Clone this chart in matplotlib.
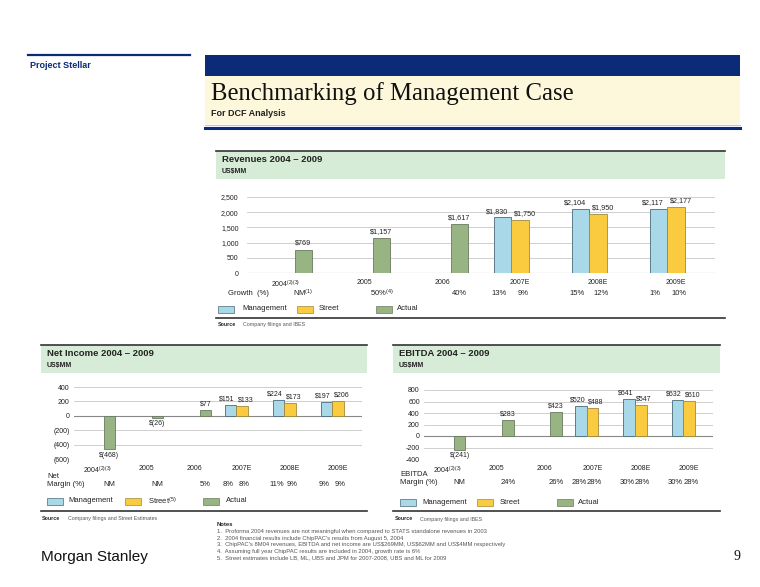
import matplotlib
matplotlib.use("Agg")
import numpy as np
from matplotlib import pyplot as plt
from matplotlib import transforms
from matplotlib.patches import Rectangle
from matplotlib.ticker import FuncFormatter

# ---- data ----
years = ["2004$^{(2)(3)}$", "2005", "2006", "2007E", "2008E", "2009E"]

rev_actual = [769, 1157, 1617]
rev_mgmt = [1830, 2104, 2117]
rev_street = [1750, 1950, 2177]
rev_growth_actual = ["NM$^{(1)}$", "50%$^{(4)}$", "40%"]
rev_growth_mgmt = ["13%", "15%", "1%"]
rev_growth_street = ["9%", "12%", "10%"]

ni_actual = [-468, -26, 77]
ni_mgmt = [151, 224, 197]
ni_street = [133, 173, 206]
ni_margin_actual = ["NM", "NM", "5%"]
ni_margin_mgmt = ["8%", "11%", "9%"]
ni_margin_street = ["8%", "9%", "9%"]

eb_actual = [-241, 283, 423]
eb_mgmt = [520, 641, 632]
eb_street = [488, 547, 610]
eb_margin_actual = ["NM", "24%", "26%"]
eb_margin_mgmt = ["28%", "30%", "30%"]
eb_margin_street = ["28%", "28%", "28%"]

notes = [
    "1.  Proforma 2004 revenues are not meaningful when compared to STATS standalone revenues in 2003",
    "2.  2004 financial results include ChipPAC's results from August 5, 2004",
    "3.  ChipPAC's 8M04 revenues, EBITDA and net income are US$269MM, US$62MM and US$4MM respectively",
    "4.  Assuming full year ChipPAC results are included in 2004, growth rate is 6%",
    "5.  Street estimates include LB, ML, UBS and JPM for 2007-2008, UBS and ML for 2009",
]

# ---- style ----
NAVY = "#0b2a78"
CREAM = "#fdf8dc"
HEAD_GREEN = "#d7ecd7"
C_MGMT = "#a9d9e8"
C_STREET = "#fbcb3f"
C_ACTUAL = "#98b482"
E_MGMT = "#4a6a78"
E_STREET = "#a08a40"
E_ACTUAL = "#6a7a60"
GRID = "#c8c8c8"
TXT = "#222222"
FOOT = "#555555"

plt.rcParams["font.family"] = ["Liberation Sans", "DejaVu Sans"]
plt.rcParams["mathtext.fontset"] = "custom"
plt.rcParams["mathtext.rm"] = "Liberation Sans"
plt.rcParams["mathtext.it"] = "Liberation Sans"
plt.rcParams["mathtext.default"] = "rm"

W, H = 760, 587
fig = plt.figure(figsize=(W / 100, H / 100), dpi=100)


def rect(x0, y0, x1, y1, color, z=0, **kw):
    fig.patches.append(Rectangle((x0 / W, 1 - y1 / H), (x1 - x0) / W, (y1 - y0) / H,
                                 transform=fig.transFigure, facecolor=color, zorder=z, **kw))


def hline(x0, x1, y, lw, color):
    fig.add_artist(plt.Line2D([x0 / W, x1 / W], [1 - y / H, 1 - y / H], lw=lw, color=color,
                              transform=fig.transFigure))


def txt(x, y, s, **kw):
    kw.setdefault("va", "center")
    kw.setdefault("color", TXT)
    fig.text(x / W, 1 - y / H, s, **kw)


def add_axes(x0, x1, ytop, ybot):
    return fig.add_axes([x0 / W, 1 - ybot / H, (x1 - x0) / W, (ybot - ytop) / H])


# ---- slide frame ----
hline(28, 190, 55, 1.6, NAVY)
txt(30, 66, "Project Stellar", fontsize=6.5, fontweight="bold", color=NAVY)
rect(205, 55, 740, 76, NAVY)
rect(205, 76, 740, 124, CREAM)
hline(205, 740, 124.5, 0.8, "#b8c4d8")
hline(205, 740, 128, 2.2, NAVY)
txt(211, 100, "Benchmarking of Management Case", fontsize=17.8, va="baseline",
    family=["Liberation Serif", "DejaVu Serif"], color="#111111")
txt(211, 114, "For DCF Analysis", fontsize=6.5, fontweight="bold")


def panel(hx0, hx1, hy, title, tsize):
    rect(hx0, hy, hx1, hy + 28, HEAD_GREEN)
    hline(hx0, hx1, hy, 1.2, "#333333")
    txt(hx0 + 6, hy + 9, title, fontsize=tsize, fontweight="bold")
    txt(hx0 + 6, hy + 21, "US$MM", fontsize=5, fontweight="bold")


def legend(y, xs, street_label):
    labels = ["Management", street_label, "Actual"]
    cols = [(C_MGMT, E_MGMT), (C_STREET, E_STREET), (C_ACTUAL, E_ACTUAL)]
    for (bx, tx), lab, (fc, ec) in zip(xs, labels, cols):
        rect(bx, y - 3.5, bx + 16, y + 3.5, fc, z=2, edgecolor=ec, linewidth=0.5)
        txt(tx, y, lab, fontsize=5.5)


def chart(ax, actual, mgmt, street, ylim, yticks, yfmt, lab_fmt, w, lsize=5):
    x = np.arange(6)
    xa, xe = x[:3], x[3:]
    ax.bar(xa + w, actual, w, color=C_ACTUAL, edgecolor=E_ACTUAL, linewidth=0.6, zorder=3)
    ax.bar(xe - w, mgmt, w, color=C_MGMT, edgecolor=E_MGMT, linewidth=0.6, zorder=3)
    ax.bar(xe, street, w, color=C_STREET, edgecolor=E_STREET, linewidth=0.6, zorder=3)
    ax.set_xlim(-0.5, 5.5)
    ax.set_ylim(*ylim)
    ax.set_yticks(yticks)
    ax.yaxis.set_major_formatter(FuncFormatter(yfmt))
    ax.set_xticks(x)
    ax.set_xticklabels(years)
    ax.tick_params(length=0, labelsize=5, colors=TXT, pad=3)
    ax.tick_params(axis="x", pad=4)
    for s in ax.spines.values():
        s.set_visible(False)
    ax.patch.set_alpha(0)
    for t in yticks:
        ax.axhline(t, color="#888888" if t == 0 else GRID, lw=0.8 if t == 0 else 0.6, zorder=1)
    span = ylim[1] - ylim[0]
    # small sideways nudge keeps neighbouring management/street labels apart
    for xs, vals, dx in ((xa + w, actual, 0), (xe - w, mgmt, -0.07), (xe, street, 0.07)):
        for xi, v in zip(xs, vals):
            if v >= 0:
                ax.text(xi + dx, v + span * 0.035, lab_fmt(v), ha="center", va="bottom",
                        fontsize=lsize, color=TXT, zorder=4)
            else:
                ax.text(xi + dx, v - span * 0.035, lab_fmt(v), ha="center", va="top",
                        fontsize=lsize, color=TXT, zorder=4)


def row(ax, y, w, act, mg, st, size=5.5):
    tr = transforms.blended_transform_factory(ax.transData, fig.transFigure)
    x = np.arange(6)
    for xi, s in zip(x[:3] + w, act):
        ax.text(xi, 1 - y / H, s, transform=tr, ha="center", va="center", fontsize=size, color=TXT)
    for xi, s in zip(x[3:] - w, mg):
        ax.text(xi - 0.04, 1 - y / H, s, transform=tr, ha="center", va="center", fontsize=size, color=TXT)
    for xi, s in zip(x[3:], st):
        ax.text(xi + 0.04, 1 - y / H, s, transform=tr, ha="center", va="center", fontsize=size, color=TXT)


def dollars(v):
    return f"${v:,.0f}" if v >= 0 else f"$({-v:,.0f})"


# ---- Revenues ----
panel(216, 725, 151, "Revenues 2004 \u2013 2009", 6.8)
ax1 = add_axes(247, 715, 197, 273)
chart(ax1, rev_actual, rev_mgmt, rev_street, (0, 2500), [0, 500, 1000, 1500, 2000, 2500],
      lambda v, p: f"{v:,.0f}", dollars, 0.225, lsize=5.2)
ax1.tick_params(axis="y", pad=6)
txt(228, 293, "Growth  (%)", fontsize=5.5)
row(ax1, 293, 0.225, rev_growth_actual, rev_growth_mgmt, rev_growth_street)
legend(309, [(218, 242), (297, 319), (376, 397)], "Street")
hline(216, 725, 318, 1.2, "#333333")
txt(218, 324.5, "Source", fontsize=3.8, fontweight="bold")
txt(243, 324.5, "Company filings and IBES", fontsize=3.8, color=FOOT)

# ---- Net income ----
panel(41, 367, 345, "Net Income 2004 \u2013 2009", 6.8)
ax2 = add_axes(74, 362, 387, 459)
chart(ax2, ni_actual, ni_mgmt, ni_street, (-600, 400), [-600, -400, -200, 0, 200, 400],
      lambda v, p: f"({-v:,.0f})" if v < 0 else f"{v:,.0f}", dollars, 0.24)
txt(47, 477, "Net", fontsize=5.5)
txt(47, 485, "Margin (%)", fontsize=5.5)
row(ax2, 485, 0.24, ni_margin_actual, ni_margin_mgmt, ni_margin_street)
legend(501, [(47, 68), (125, 148), (203, 226)], "Street$^{(5)}$")
hline(41, 367, 511, 1.2, "#333333")
txt(42, 518.5, "Source", fontsize=3.8, fontweight="bold")
txt(68, 518.5, "Company filings and Street Estimates", fontsize=3.8, color=FOOT)

# ---- EBITDA ----
panel(393, 720, 345, "EBITDA 2004 \u2013 2009", 6.8)
ax3 = add_axes(424, 713, 390, 459)
chart(ax3, eb_actual, eb_mgmt, eb_street, (-400, 800), [-400, -200, 0, 200, 400, 600, 800],
      lambda v, p: f"{v:.0f}", dollars, 0.24)
txt(400, 475, "EBITDA", fontsize=5.5)
txt(400, 483, "Margin (%)", fontsize=5.5)
row(ax3, 483, 0.24, eb_margin_actual, eb_margin_mgmt, eb_margin_street)
legend(502, [(400, 422), (477, 500), (557, 578)], "Street")
hline(393, 720, 511, 1.2, "#333333")
txt(395, 519, "Source", fontsize=3.8, fontweight="bold")
txt(420, 519, "Company filings and IBES", fontsize=3.8, color=FOOT)

# ---- notes & footer ----
txt(217, 525, "Notes", fontsize=4.2, fontweight="bold")
for i, n in enumerate(notes):
    txt(217, 531.5 + i * 6.6, n, fontsize=4.2, color=FOOT)

txt(41, 557, "Morgan Stanley", fontsize=11, color="#111111")
txt(733, 557, "9", fontsize=10, family=["Liberation Serif", "DejaVu Serif"], color="#111111")

fig.savefig("out.png", dpi=100)
